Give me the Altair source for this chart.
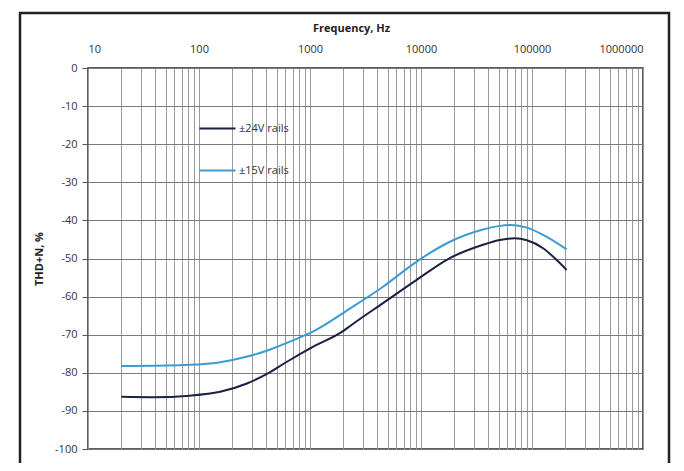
import altair as alt
import pandas as pd

# ±24V rails
freq_24 = [20, 38, 83, 155, 270, 410, 620, 1060, 2000, 2300, 4550, 9150, 18200, 36200, 50000, 70000, 90000, 126000, 167000, 205000]
thd_24 = [-86.3, -86.4, -86.0, -85.0, -82.8, -80.3, -77.1, -73.2, -69.0, -67.7, -61.7, -55.6, -49.9, -46.4, -45.2, -44.7, -45.2, -47.3, -50.4, -53.0]

# ±15V rails
freq_15 = [20, 67, 134, 234, 407, 661, 1060, 2300, 4550, 9150, 18200, 36200, 50000, 65000, 90000, 126000, 205000]
thd_15 = [-78.2, -78.0, -77.5, -76.2, -74.2, -71.8, -69.2, -63.1, -57.4, -50.8, -45.6, -42.4, -41.5, -41.2, -41.9, -43.8, -47.6]

series_names = ["±24V rails", "±15V rails"]
series_colors = ["#1b2140", "#3c9bd4"]

x_ticks = [m * 10 ** k for k in range(1, 6) for m in range(1, 10)] + [1000000]
y_ticks = list(range(-100, 1, 10))

df = pd.concat([
    pd.DataFrame({"f": freq_24, "v": thd_24, "s": series_names[0]}),
    pd.DataFrame({"f": freq_15, "v": thd_15, "s": series_names[1]}),
])

FONT = "Open Sans"

lines = alt.Chart(df).mark_line(strokeWidth=2, interpolate="monotone").encode(
    x=alt.X("f:Q",
            scale=alt.Scale(type="log", domain=[10, 1000000], nice=False),
            axis=alt.Axis(orient="top", title="Frequency, Hz", values=x_ticks,
                          format="d",
                          labelExpr="indexof([10,100,1000,10000,100000,1000000], datum.value) >= 0 ? datum.label : ''",
                          labelOverlap=False, ticks=False, domain=False,
                          labelPadding=14, titlePadding=10, titleX=263,
                          grid=True, gridColor="#9a9a9a", gridWidth=1)),
    y=alt.Y("v:Q",
            scale=alt.Scale(domain=[-100, 0], nice=False),
            axis=alt.Axis(title="THD+N, %", values=y_ticks, tickSize=6, tickColor="#555",
                          labelExpr="toString(datum.value)",
                          domain=False, labelPadding=5, titlePadding=10,
                          grid=True, gridColor="#7a7a7a", gridWidth=1.2)),
    color=alt.Color("s:N", scale=alt.Scale(domain=series_names, range=series_colors),
                    legend=alt.Legend(title=None, orient="none", legendX=110, legendY=41,
                                      symbolType="stroke", symbolSize=1300,
                                      symbolStrokeWidth=2, rowPadding=17,
                                      labelFont=FONT, labelFontSize=11,
                                      labelColor="#333", labelOffset=2,
                                      padding=0)),
)

frame = alt.Chart(pd.DataFrame({"a": [0]})).mark_rect(
    fill=None, stroke="#222", strokeWidth=2.5
).encode(
    x=alt.value(-68), x2=alt.value(581), y=alt.value(-55), y2=alt.value(400)
)

chart = alt.layer(lines, frame).properties(
    width=555, height=381,
    autosize=alt.AutoSizeParams(type="none"),
    padding={"left": 80, "top": 60, "right": 33, "bottom": 14},
    background="white",
).configure_view(
    stroke="#2a2a2a", strokeWidth=1.5
).configure_axis(
    labelFont=FONT, labelFontSize=11, labelColor="#333", labelFontWeight="normal",
    titleFont=FONT, titleFontSize=11, titleColor="#222", titleFontWeight="bold",
)

chart.save("out.html", embed_options={"renderer": "svg", "actions": False})
